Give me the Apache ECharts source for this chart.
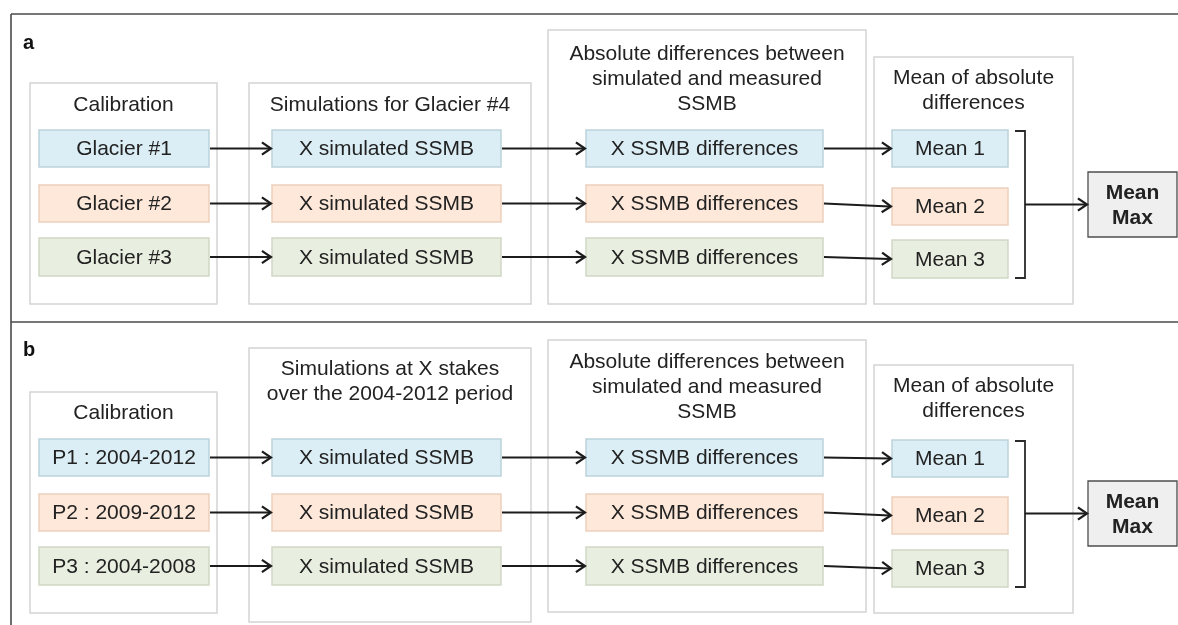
<!DOCTYPE html>
<html>
<head>
<meta charset="utf-8">
<title>SSMB calibration workflow</title>
<script src="https://cdn.jsdelivr.net/npm/echarts@6/dist/echarts.min.js"></script>
<style>
  html, body, #main {
    margin: 0;
    padding: 0;
    width: 100%;
    height: 100%;
    background: #fff;
  }
</style>
</head>
<body>
<div id="main"></div>
<script>
// ---- content ----
var panelLabels = ['a', 'b'];
var groupTitles = [
  ['Calibration', 'Simulations for Glacier #4', 'Absolute differences between\nsimulated and measured\nSSMB', 'Mean of absolute\ndifferences'],
  ['Calibration', 'Simulations at X stakes\nover the 2004-2012 period', 'Absolute differences between\nsimulated and measured\nSSMB', 'Mean of absolute\ndifferences']
];
var calibrationLabels = [
  ['Glacier #1', 'Glacier #2', 'Glacier #3'],
  ['P1 : 2004-2012', 'P2 : 2009-2012', 'P3 : 2004-2008']
];
var simulationLabels = ['X simulated SSMB', 'X simulated SSMB', 'X simulated SSMB'];
var differenceLabels = ['X SSMB differences', 'X SSMB differences', 'X SSMB differences'];
var meanLabels = ['Mean 1', 'Mean 2', 'Mean 3'];
var summaryLabel = 'Mean\nMax';
var rowFill = ['#dbeef5', '#fde8da', '#e9efe0'];
var rowStroke = ['#bcd3db', '#ebcfbc', '#cfd8c5'];

// ---- layout (page pixels, mapped through hidden value axes) ----
var W = 1178, H = 625;
var groupX = [[30, 217], [249, 531], [548, 866], [874, 1073]];
var cellX = [[39, 209], [272, 501], [586, 823], [892, 1008]];
var groupY = [
  [[83, 304], [83, 304], [30, 304], [57, 304]],
  [[392, 613], [348, 622], [340, 612], [365, 613]]
];
var titleY = [[105, 105, 79, 91], [413, 382, 387, 399]];
var rowY = [
  [[130, 167], [185, 222], [238, 276]],
  [[439, 476], [494, 531], [547, 585]]
];
var meanRowY = [
  [[130, 167], [188, 225], [240, 278]],
  [[440, 477], [497, 534], [550, 587]]
];
var summaryX = [1088, 1177];
var summaryY = [[172, 237], [481, 546]];
var bracketX = [1015, 1025];
var labelPos = [[23, 43], [23, 350]];
var frameLines = [[11, 14, 1178, 14], [11, 322, 1178, 322], [11, 14, 11, 625]];

var FONT = '"Liberation Sans", Arial, sans-serif';

// build boxes, arrows, brackets
var boxes = [];
var arrows = [];
var brackets = [];
for (var p = 0; p < 2; p++) {
  for (var g = 0; g < 4; g++) {
    boxes.push({
      r: [groupX[g][0], groupY[p][g][0], groupX[g][1], groupY[p][g][1]],
      ty: titleY[p][g], text: groupTitles[p][g],
      fill: '#ffffff', stroke: '#d4d4d4', lw: 1.5, bold: false
    });
  }
  for (var i = 0; i < 3; i++) {
    var labels = [calibrationLabels[p][i], simulationLabels[i], differenceLabels[i], meanLabels[i]];
    for (var c = 0; c < 4; c++) {
      var ys = c === 3 ? meanRowY[p][i] : rowY[p][i];
      boxes.push({
        r: [cellX[c][0], ys[0], cellX[c][1], ys[1]],
        ty: (ys[0] + ys[1]) / 2 + 1, text: labels[c],
        fill: rowFill[i], stroke: rowStroke[i], lw: 1.5, bold: false
      });
      if (c < 3) {
        var ys2 = c + 1 === 3 ? meanRowY[p][i] : rowY[p][i];
        arrows.push([cellX[c][1] + 1, (ys[0] + ys[1]) / 2, cellX[c + 1][0] - 1, (ys2[0] + ys2[1]) / 2]);
      }
    }
  }
  boxes.push({
    r: [summaryX[0], summaryY[p][0], summaryX[1], summaryY[p][1]],
    ty: (summaryY[p][0] + summaryY[p][1]) / 2 + 1, text: summaryLabel,
    fill: '#efefef', stroke: '#4d4d4d', lw: 1.3, bold: true
  });
  var brTop = meanRowY[p][0][0] + 1, brBot = meanRowY[p][2][1];
  brackets.push([bracketX[0], brTop, bracketX[1], brBot]);
  var sumMid = (summaryY[p][0] + summaryY[p][1]) / 2;
  arrows.push([bracketX[1], sumMid, summaryX[0] - 1, sumMid]);
}

function renderBox(params, api) {
  var b = boxes[params.dataIndex];
  var p0 = api.coord([api.value(0), api.value(1)]);
  var p1 = api.coord([api.value(2), api.value(3)]);
  var ty = api.coord([0, api.value(4)])[1];
  return {
    type: 'group',
    children: [{
      type: 'rect',
      shape: { x: p0[0], y: p0[1], width: p1[0] - p0[0], height: p1[1] - p0[1] },
      style: { fill: b.fill, stroke: b.stroke, lineWidth: b.lw }
    }, {
      type: 'text',
      style: {
        text: b.text, x: (p0[0] + p1[0]) / 2, y: ty,
        align: 'center', verticalAlign: 'middle',
        font: (b.bold ? 'bold ' : '') + '21px ' + FONT,
        lineHeight: 25, fill: '#222'
      }
    }]
  };
}

function renderArrow(params, api) {
  var a = api.coord([api.value(0), api.value(1)]);
  var b = api.coord([api.value(2), api.value(3)]);
  var ang = Math.atan2(b[1] - a[1], b[0] - a[0]);
  var len = 11, half = 0.6;
  var h1 = [b[0] - len * Math.cos(ang - half), b[1] - len * Math.sin(ang - half)];
  var h2 = [b[0] - len * Math.cos(ang + half), b[1] - len * Math.sin(ang + half)];
  var st = { stroke: '#1c1c1c', lineWidth: 2.2, fill: 'none', lineJoin: 'miter' };
  return {
    type: 'group',
    children: [
      { type: 'line', shape: { x1: a[0], y1: a[1], x2: b[0] - 1.5, y2: b[1] }, style: st },
      { type: 'polyline', shape: { points: [h1, [b[0], b[1]], h2] }, style: st }
    ]
  };
}

function renderBracket(params, api) {
  var a = api.coord([api.value(0), api.value(1)]);
  var b = api.coord([api.value(2), api.value(3)]);
  return {
    type: 'polyline',
    shape: { points: [[a[0], a[1]], [b[0], a[1]], [b[0], b[1]], [a[0], b[1]]] },
    style: { stroke: '#2a2a2a', lineWidth: 1.8, fill: 'none' }
  };
}

function renderFrame(params, api) {
  var a = api.coord([api.value(0), api.value(1)]);
  var b = api.coord([api.value(2), api.value(3)]);
  return {
    type: 'line',
    shape: { x1: a[0], y1: a[1], x2: b[0], y2: b[1] },
    style: { stroke: '#4a4a4a', lineWidth: 1.6 }
  };
}

function renderLabel(params, api) {
  var a = api.coord([api.value(0), api.value(1)]);
  return {
    type: 'text',
    style: {
      text: panelLabels[params.dataIndex], x: a[0], y: a[1],
      align: 'left', verticalAlign: 'middle',
      font: 'bold 20px ' + FONT, fill: '#111'
    }
  };
}

var chart = echarts.init(document.getElementById('main'));
chart.setOption({
  animation: false,
  backgroundColor: '#ffffff',
  grid: { left: 0, right: 0, top: 0, bottom: 0 },
  xAxis: { type: 'value', min: 0, max: W, show: false },
  yAxis: { type: 'value', min: 0, max: H, inverse: true, show: false },
  series: [
    {
      name: 'frame', type: 'custom', renderItem: renderFrame, silent: true,
      data: frameLines
    },
    {
      name: 'boxes', type: 'custom', renderItem: renderBox, silent: true,
      data: boxes.map(function (b) { return b.r.concat([b.ty]); })
    },
    {
      name: 'brackets', type: 'custom', renderItem: renderBracket, silent: true,
      data: brackets
    },
    {
      name: 'arrows', type: 'custom', renderItem: renderArrow, silent: true,
      data: arrows
    },
    {
      name: 'labels', type: 'custom', renderItem: renderLabel, silent: true,
      data: labelPos
    }
  ]
});
</script>
</body>
</html>
